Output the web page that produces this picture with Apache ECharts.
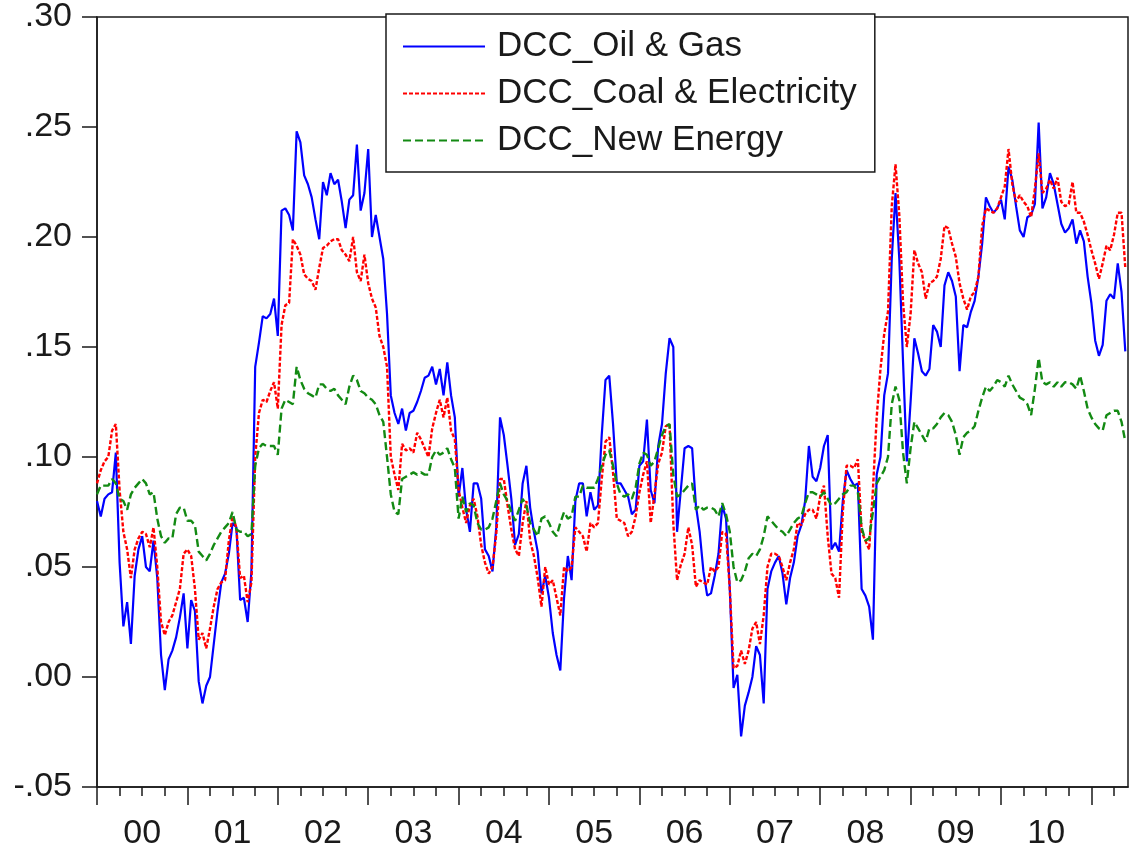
<!DOCTYPE html>
<html>
<head>
<meta charset="utf-8">
<script src="https://cdn.jsdelivr.net/npm/echarts@6/dist/echarts.min.js"></script>
<style>
  html, body { margin: 0; padding: 0; background: #fff; }
  #chart { width: 1129px; height: 851px; }
</style>
</head>
<body>
<div id="chart"></div>
<script>
// half-monthly observations starting Jan 2000
const startYear = 2000
const stepYear = 1 / 24

const yearLabels = ['00', '01', '02', '03', '04', '05', '06', '07', '08', '09', '10']

const oilGas = [
  0.080, 0.073, 0.081, 0.083, 0.084, 0.102, 0.052, 0.023, 0.034, 0.015,
  0.046, 0.058, 0.064, 0.050, 0.048, 0.062, 0.045, 0.010, -0.006, 0.008,
  0.012, 0.018, 0.027, 0.038, 0.013, 0.035, 0.030, -0.002, -0.012, -0.004,
  0.000, 0.015, 0.030, 0.043, 0.047, 0.056, 0.070, 0.068, 0.035, 0.036,
  0.025, 0.048, 0.141, 0.152, 0.164, 0.163, 0.165, 0.172, 0.155, 0.212,
  0.213, 0.210, 0.203, 0.248, 0.243, 0.228, 0.224, 0.218, 0.208, 0.199,
  0.225, 0.219, 0.229, 0.224, 0.226, 0.216, 0.204, 0.217, 0.219, 0.242,
  0.212, 0.220, 0.240, 0.200, 0.210, 0.200, 0.190, 0.165,
  0.128, 0.120, 0.115, 0.122, 0.112, 0.120, 0.121, 0.125, 0.130, 0.136,
  0.137, 0.141, 0.133, 0.140, 0.128, 0.143, 0.128, 0.118, 0.082, 0.095,
  0.076, 0.066, 0.088, 0.088, 0.081, 0.058, 0.055, 0.048, 0.068, 0.118,
  0.110, 0.096, 0.081, 0.060, 0.065, 0.088, 0.096, 0.077, 0.066, 0.057,
  0.038, 0.046, 0.036, 0.020, 0.010, 0.003, 0.036, 0.055, 0.044, 0.080,
  0.088, 0.088, 0.073, 0.084, 0.076, 0.078, 0.110, 0.135, 0.137, 0.115,
  0.088, 0.088, 0.085,
  0.082, 0.074, 0.076, 0.096, 0.098, 0.117, 0.085, 0.079, 0.105, 0.115,
  0.138, 0.154, 0.150, 0.066, 0.085, 0.104, 0.105, 0.104, 0.078, 0.066,
  0.048, 0.037, 0.038, 0.046, 0.056, 0.078, 0.072, 0.040, -0.005, 0.001,
  -0.027, -0.013, -0.007, 0.000, 0.014, 0.010, -0.012, 0.040, 0.048, 0.052,
  0.055, 0.047, 0.033, 0.045, 0.052, 0.064, 0.069, 0.080, 0.105, 0.091,
  0.089, 0.095, 0.105, 0.110, 0.058, 0.061, 0.057, 0.080, 0.094, 0.090,
  0.087, 0.088, 0.040, 0.037, 0.032, 0.017, 0.092, 0.100, 0.128, 0.138,
  0.190, 0.220, 0.190, 0.143, 0.098, 0.125, 0.154, 0.147, 0.139, 0.137,
  0.140, 0.160, 0.157, 0.150, 0.178, 0.184, 0.180, 0.173, 0.139, 0.160,
  0.159, 0.166, 0.171, 0.182, 0.197, 0.218, 0.214, 0.211, 0.213, 0.217,
  0.208, 0.232, 0.226, 0.214, 0.203, 0.200, 0.209, 0.210, 0.215, 0.252,
  0.213, 0.218, 0.229, 0.224, 0.215, 0.206, 0.202, 0.204, 0.208, 0.197,
  0.203, 0.198, 0.182, 0.170, 0.153, 0.146, 0.151, 0.171, 0.174, 0.172,
  0.188, 0.175, 0.148
]

const coalElec = [
  0.088, 0.094, 0.098, 0.100, 0.112, 0.115, 0.085, 0.066, 0.058, 0.045,
  0.058, 0.063, 0.066, 0.065, 0.059, 0.068, 0.050, 0.025, 0.019, 0.025,
  0.028, 0.034, 0.040, 0.056, 0.058, 0.055, 0.040, 0.017, 0.020, 0.013,
  0.022, 0.032, 0.040, 0.043, 0.044, 0.062, 0.073, 0.068, 0.045, 0.046,
  0.034, 0.043, 0.100, 0.120, 0.126, 0.125, 0.130, 0.134, 0.122, 0.160,
  0.169, 0.170, 0.199, 0.196, 0.192, 0.183, 0.181, 0.180, 0.176, 0.186,
  0.195, 0.196, 0.198, 0.199, 0.199, 0.194, 0.192, 0.189, 0.200, 0.184,
  0.180, 0.192, 0.179, 0.172, 0.168, 0.155, 0.150, 0.141,
  0.100, 0.092, 0.085, 0.106, 0.103, 0.104, 0.102, 0.111, 0.108, 0.104,
  0.100, 0.113, 0.120, 0.126, 0.118, 0.127, 0.112, 0.108, 0.085, 0.077,
  0.070, 0.078, 0.081, 0.073, 0.060, 0.052, 0.047, 0.050, 0.065, 0.090,
  0.090, 0.078, 0.067, 0.058, 0.055, 0.070, 0.080, 0.062, 0.055, 0.045,
  0.032, 0.050, 0.042, 0.044, 0.036, 0.028, 0.050, 0.048, 0.050, 0.068,
  0.066, 0.064, 0.057, 0.070, 0.068, 0.070, 0.090, 0.107, 0.109, 0.093,
  0.072, 0.071, 0.070,
  0.064, 0.066, 0.073, 0.084, 0.092, 0.098, 0.070, 0.083, 0.097, 0.102,
  0.114, 0.115, 0.070, 0.044, 0.051, 0.056, 0.068, 0.060, 0.041, 0.044,
  0.043, 0.042, 0.050, 0.048, 0.050, 0.066, 0.065, 0.040, 0.004, 0.005,
  0.012, 0.006, 0.012, 0.022, 0.025, 0.015, 0.028, 0.050, 0.056, 0.056,
  0.055, 0.050, 0.044, 0.052, 0.058, 0.070, 0.069, 0.074, 0.076, 0.076,
  0.072, 0.082, 0.087, 0.064, 0.047, 0.045, 0.036, 0.075, 0.096, 0.096,
  0.095, 0.099, 0.066, 0.062, 0.058, 0.085, 0.118, 0.140, 0.156, 0.166,
  0.214, 0.233, 0.210, 0.170, 0.150, 0.165, 0.194, 0.188, 0.184, 0.172,
  0.179, 0.180, 0.182, 0.190, 0.205, 0.204, 0.197, 0.191, 0.179, 0.172,
  0.167, 0.173, 0.175, 0.182, 0.205, 0.213, 0.212, 0.211, 0.213, 0.218,
  0.223, 0.240, 0.224, 0.216, 0.219, 0.216, 0.214, 0.209, 0.222, 0.238,
  0.220, 0.222, 0.226, 0.222, 0.227, 0.216, 0.214, 0.215, 0.225, 0.211,
  0.211, 0.207, 0.201, 0.194, 0.188, 0.181, 0.188, 0.196, 0.194, 0.201,
  0.211, 0.211, 0.186
]

const newEnergy = [
  0.083, 0.087, 0.087, 0.087, 0.090, 0.088, 0.081, 0.080, 0.076, 0.083,
  0.086, 0.088, 0.090, 0.088, 0.083, 0.084, 0.072, 0.064, 0.061, 0.063,
  0.063, 0.074, 0.077, 0.077, 0.071, 0.071, 0.069, 0.057, 0.055, 0.053,
  0.056, 0.060, 0.063, 0.066, 0.068, 0.070, 0.075, 0.067, 0.066, 0.066,
  0.064, 0.065, 0.096, 0.104, 0.106, 0.105, 0.105, 0.105, 0.101, 0.122,
  0.126, 0.125, 0.124, 0.141, 0.135, 0.131, 0.129, 0.128, 0.127, 0.133,
  0.133, 0.131, 0.130, 0.131, 0.128, 0.126, 0.124, 0.132, 0.137, 0.135,
  0.130, 0.129, 0.127, 0.126, 0.124, 0.119, 0.116, 0.100,
  0.083, 0.075, 0.074, 0.090, 0.091, 0.092, 0.093, 0.092, 0.093, 0.092,
  0.092, 0.100, 0.103, 0.101, 0.102, 0.104, 0.099, 0.095, 0.072, 0.082,
  0.075, 0.079, 0.078, 0.070, 0.067, 0.067, 0.068, 0.072, 0.080, 0.088,
  0.083, 0.080, 0.075, 0.071, 0.076, 0.081, 0.078, 0.070, 0.067, 0.064,
  0.072, 0.073, 0.070, 0.066, 0.064, 0.070, 0.075, 0.072, 0.073, 0.082,
  0.082, 0.087, 0.086, 0.086, 0.086, 0.090, 0.096, 0.101, 0.103, 0.096,
  0.088, 0.083, 0.082,
  0.083, 0.081, 0.086, 0.097, 0.102, 0.101, 0.096, 0.098, 0.104, 0.110,
  0.114, 0.115, 0.092, 0.082, 0.083, 0.085, 0.087, 0.088, 0.076, 0.078,
  0.076, 0.077, 0.077, 0.076, 0.073, 0.079, 0.074, 0.066, 0.050, 0.043,
  0.044, 0.048, 0.054, 0.056, 0.055, 0.058, 0.064, 0.073, 0.071, 0.069,
  0.067, 0.066, 0.064, 0.067, 0.070, 0.072, 0.073, 0.079, 0.084, 0.084,
  0.083, 0.082, 0.084, 0.081, 0.078, 0.079, 0.081, 0.083, 0.084, 0.087,
  0.087, 0.084, 0.068, 0.062, 0.063, 0.075, 0.088, 0.091, 0.094, 0.100,
  0.124, 0.132, 0.126, 0.102, 0.088, 0.104, 0.116, 0.113, 0.110, 0.107,
  0.113, 0.113, 0.115, 0.118, 0.120, 0.119, 0.116, 0.110, 0.101, 0.109,
  0.111, 0.112, 0.114, 0.121, 0.127, 0.132, 0.130, 0.132, 0.135, 0.134,
  0.132, 0.137, 0.133, 0.130, 0.127, 0.126, 0.124, 0.119, 0.131, 0.145,
  0.134, 0.133, 0.134, 0.132, 0.134, 0.132, 0.134, 0.134, 0.133, 0.131,
  0.137, 0.130, 0.122, 0.118, 0.115, 0.113, 0.112, 0.119, 0.120, 0.121,
  0.121, 0.116, 0.107
]

const dates = oilGas.map((v, i) => startYear + i * stepYear)
const pair = arr => arr.map((v, i) => [dates[i], v])

// ticks: years (major), quarters (minor), labels at mid-year
const yearTicks = []
const quarterTicks = []
const labelPos = []
for (let y = 2000; y <= 2011; y++) {
  yearTicks.push(y)
  if (y < 2011) labelPos.push(y + 0.5)
  for (let q = 1; q < 4; q++) {
    if (y + q / 4 < 2011.4) quarterTicks.push(y + q / 4)
  }
}

const font = 'Liberation Sans, Arial, Helvetica, sans-serif'
const inkColor = '#1a1a1a'

const chart = echarts.init(document.getElementById('chart'))
chart.setOption({
  animation: false,
  backgroundColor: '#fff',
  grid: {
    left: 97, top: 14, right: 1, bottom: 64,
    show: true, borderColor: inkColor, borderWidth: 1.5
  },
  legend: {
    orient: 'vertical',
    left: 386, top: 14,
    padding: [15, 18, 14, 16],
    itemWidth: 82, itemHeight: 30, itemGap: 12,
    borderColor: inkColor, borderWidth: 1.5,
    backgroundColor: '#fff',
    itemStyle: { opacity: 0 },
    textStyle: { fontFamily: font, fontSize: 35, color: inkColor, padding: [0, 0, 0, 7] },
    data: ['DCC_Oil & Gas', 'DCC_Coal & Electricity', 'DCC_New Energy']
  },
  xAxis: [
    {
      type: 'value', min: 2000, max: 2011.405,
      axisLine: { onZero: false, lineStyle: { color: inkColor, width: 1.5 } },
      axisTick: { length: 18, customValues: yearTicks, lineStyle: { color: inkColor, width: 1.5 } },
      axisLabel: {
        customValues: labelPos, margin: 30,
        fontFamily: font, fontSize: 34, color: inkColor,
        formatter: v => yearLabels[Math.floor(v) - 2000] || ''
      },
      splitLine: { show: false }
    },
    {
      type: 'value', min: 2000, max: 2011.405, position: 'bottom',
      axisLine: { show: false, onZero: false },
      axisTick: { length: 9, customValues: quarterTicks, lineStyle: { color: inkColor, width: 1.5 } },
      axisLabel: { show: false },
      splitLine: { show: false }
    }
  ],
  yAxis: {
    type: 'value', min: -0.05, max: 0.30, interval: 0.05,
    axisLine: { show: true, lineStyle: { color: inkColor, width: 1.5 } },
    axisTick: { show: true, length: 15, lineStyle: { color: inkColor, width: 1.5 } },
    axisLabel: {
      margin: 25, fontFamily: font, fontSize: 34, color: inkColor,
      formatter: v => v.toFixed(2).replace('0.', '.')
    },
    splitLine: { show: false }
  },
  series: [
    {
      name: 'DCC_Oil & Gas', type: 'line', showSymbol: false, symbol: 'none',
      data: pair(oilGas),
      lineStyle: { color: '#0000ff', width: 2.2 }, itemStyle: { color: '#0000ff' }
    },
    {
      name: 'DCC_Coal & Electricity', type: 'line', showSymbol: false, symbol: 'none',
      data: pair(coalElec),
      lineStyle: { color: '#ff0000', width: 2.4, type: [4, 2] }, itemStyle: { color: '#ff0000' }
    },
    {
      name: 'DCC_New Energy', type: 'line', showSymbol: false, symbol: 'none',
      data: pair(newEnergy),
      lineStyle: { color: '#138a13', width: 2.4, type: [8, 4] }, itemStyle: { color: '#138a13' }
    }
  ]
})
</script>
</body>
</html>
